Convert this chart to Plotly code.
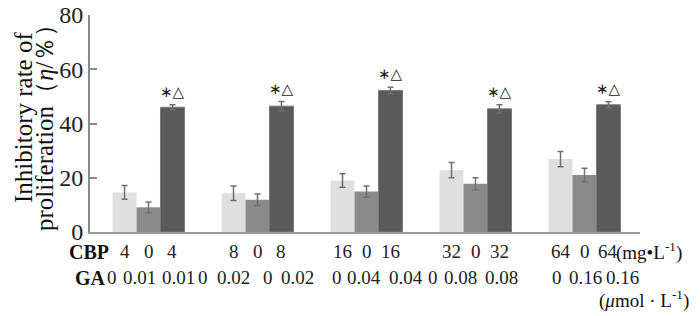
import plotly.graph_objects as go

# ---- data ----
groups = [0, 1, 2, 3, 4]
cbp_only = [14.6, 14.3, 19.0, 22.8, 26.9]
cbp_only_err = [2.5, 2.7, 2.5, 2.8, 2.8]
ga_only = [9.1, 11.9, 14.9, 17.8, 21.0]
ga_only_err = [2.0, 2.1, 2.1, 2.2, 2.5]
combo = [46.0, 46.4, 52.2, 45.4, 46.9]
combo_err = [0.9, 1.7, 1.2, 1.5, 1.1]
sig_label = "∗△"

cbp_row = [["4", "0", "4"], ["8", "0", "8"], ["16", "0", "16"], ["32", "0", "32"], ["64", "0", "64"]]
ga_tokens = ["0", "0.01", "0.01", "0", "0.02", "0", "0.02", "0", "0.04", "0.04",
             "0", "0.08", "0.08", "0", "0.16", "0.16"]
ga_token_px = [112, 139, 178, 203, 233, 268, 297, 337, 364, 406, 433, 460, 501, 557, 585, 622]
yticks = [0, 20, 40, 60, 80]

# ---- layout geometry ----
W, H = 700, 316
L, R, T, B = 90, 60, 15, 84
x0_px = 148.5
unit_px = 109.0
xrange = [(L - x0_px) / unit_px, (W - R - x0_px) / unit_px]
plot_h = H - T - B
plot_w = W - L - R

def px_to_paper(px):
    return (px - L) / plot_w

def py_to_paper(py):
    return (H - B - py) / plot_h

serif = "Liberation Serif"
errstyle = dict(type="data", visible=True, color="#707070", thickness=1.5, width=3)

fig = go.Figure()
fig.add_bar(x=groups, y=cbp_only, marker_color="#dfdfdf", marker_line_width=0,
            error_y=dict(array=cbp_only_err, **errstyle))
fig.add_bar(x=groups, y=ga_only, marker_color="#8a8a8a", marker_line_width=0,
            error_y=dict(array=ga_only_err, **errstyle))
fig.add_bar(x=groups, y=combo, marker_color="#5a5a5a", marker_line_color="#7a7a7a",
            marker_line_width=1, error_y=dict(array=combo_err, **errstyle))

bargap = 0.34
bw = (1 - bargap) / 3
anns = []
# significance markers
for g, v, e in zip(groups, combo, combo_err):
    anns.append(dict(x=g + bw, y=v + e, xref="x", yref="y", text=sig_label,
                     showarrow=False, yanchor="bottom", yshift=2,
                     font=dict(family="DejaVu Sans", size=15, color="#222")))
# CBP row
for g, trip in zip(groups, cbp_row):
    for k, t in enumerate(trip):
        anns.append(dict(x=g + (k - 1) * bw, y=py_to_paper(251), xref="x", yref="paper",
                         text=t, showarrow=False, xanchor="center", yanchor="middle",
                         font=dict(family=serif, size=19, color="#222")))
# GA row
for t, px in zip(ga_tokens, ga_token_px):
    anns.append(dict(x=px_to_paper(px), y=py_to_paper(277), xref="paper", yref="paper",
                     text=t, showarrow=False, xanchor="center", yanchor="middle",
                     font=dict(family=serif, size=19, color="#222")))
# row headers
anns.append(dict(x=px_to_paper(89), y=py_to_paper(252), xref="paper", yref="paper",
                 text="<b>CBP</b>", showarrow=False, xanchor="center", yanchor="middle",
                 font=dict(family=serif, size=20, color="#111")))
anns.append(dict(x=px_to_paper(90), y=py_to_paper(278), xref="paper", yref="paper",
                 text="<b>GA</b>", showarrow=False, xanchor="center", yanchor="middle",
                 font=dict(family=serif, size=20, color="#111")))
# units
anns.append(dict(x=px_to_paper(614), y=py_to_paper(251), xref="paper", yref="paper",
                 text="(mg•L<sup>-1</sup>)", showarrow=False, xanchor="left", yanchor="middle",
                 font=dict(family=serif, size=19, color="#111")))
anns.append(dict(x=px_to_paper(597), y=py_to_paper(299), xref="paper", yref="paper",
                 text="(<i>μ</i>mol · L<sup>-1</sup>)", showarrow=False, xanchor="left",
                 yanchor="middle", font=dict(family=serif, size=19, color="#111")))
# y-axis title (two lines)
anns.append(dict(x=px_to_paper(23), y=py_to_paper(118), xref="paper", yref="paper",
                 text="Inhibitory rate of", textangle=-90, showarrow=False,
                 xanchor="center", yanchor="middle",
                 font=dict(family=serif, size=25, color="#111")))
anns.append(dict(x=px_to_paper(44), y=py_to_paper(122), xref="paper", yref="paper",
                 text="proliferation（<i>η</i>/％）", textangle=-90, showarrow=False,
                 xanchor="center", yanchor="middle",
                 font=dict(family=serif, size=25, color="#111")))

fig.update_layout(
    width=W, height=H,
    margin=dict(l=L, r=R, t=T, b=B, pad=0, autoexpand=False),
    paper_bgcolor="white", plot_bgcolor="white",
    barmode="group", bargap=bargap, bargroupgap=0,
    showlegend=False,
    annotations=anns,
    xaxis=dict(range=xrange, showticklabels=False, ticks="", showgrid=False,
               zeroline=False, showline=True, linecolor="#9a9a9a", linewidth=2,
               automargin=False),
    yaxis=dict(range=[0, 80], tickvals=yticks, ticks="inside", ticklen=7, tickwidth=1.5,
               tickcolor="#8a8a8a", showgrid=False, zeroline=False, showline=True,
               linecolor="#8a8a8a", linewidth=2, automargin=False,
               tickfont=dict(family=serif, size=24, color="#222")),
)

fig.write_html("out.html", config={"displayModeBar": False},
               post_script="document.body.style.margin='0';document.body.style.overflow='hidden';")
